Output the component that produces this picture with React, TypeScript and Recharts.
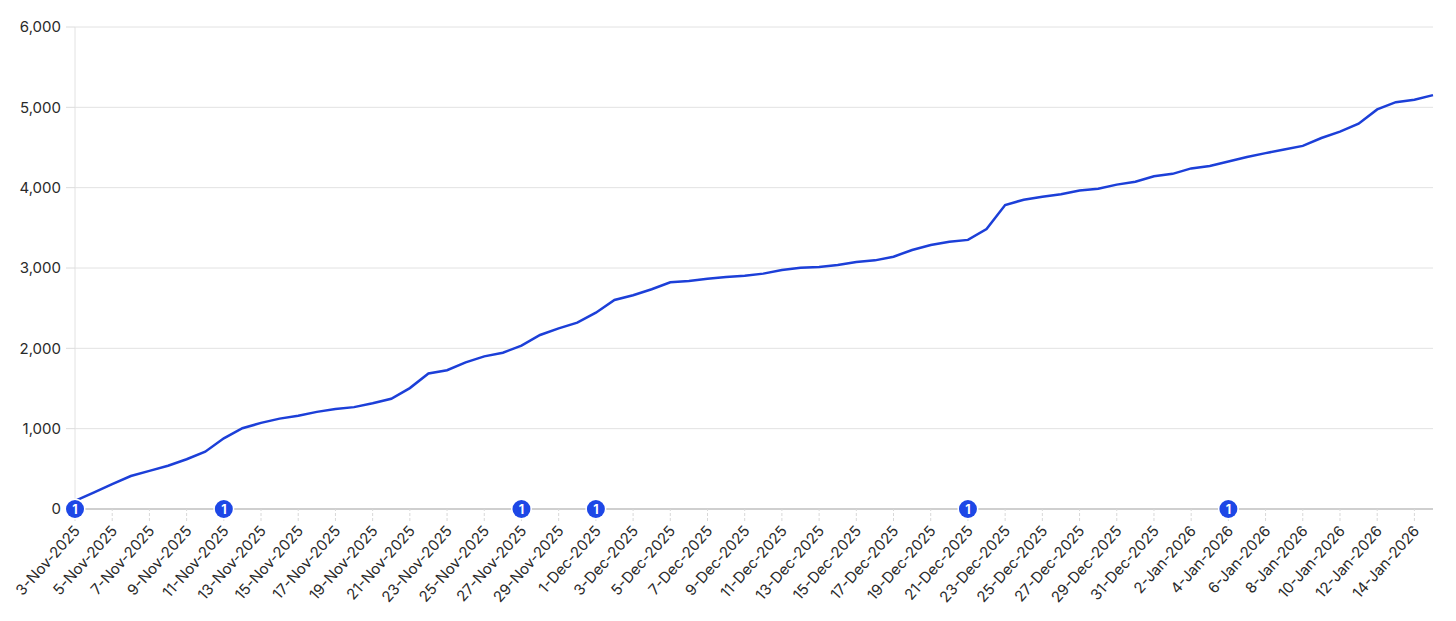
import {
  LineChart,
  Line,
  XAxis,
  YAxis,
  CartesianGrid,
  ReferenceDot,
} from "recharts";

// one point per day, 3-Nov-2025 .. 15-Jan-2026
const dates = [
  "3-Nov-2025", "4-Nov-2025", "5-Nov-2025", "6-Nov-2025", "7-Nov-2025", "8-Nov-2025",
  "9-Nov-2025", "10-Nov-2025", "11-Nov-2025", "12-Nov-2025", "13-Nov-2025", "14-Nov-2025",
  "15-Nov-2025", "16-Nov-2025", "17-Nov-2025", "18-Nov-2025", "19-Nov-2025", "20-Nov-2025",
  "21-Nov-2025", "22-Nov-2025", "23-Nov-2025", "24-Nov-2025", "25-Nov-2025", "26-Nov-2025",
  "27-Nov-2025", "28-Nov-2025", "29-Nov-2025", "30-Nov-2025", "1-Dec-2025", "2-Dec-2025",
  "3-Dec-2025", "4-Dec-2025", "5-Dec-2025", "6-Dec-2025", "7-Dec-2025", "8-Dec-2025",
  "9-Dec-2025", "10-Dec-2025", "11-Dec-2025", "12-Dec-2025", "13-Dec-2025", "14-Dec-2025",
  "15-Dec-2025", "16-Dec-2025", "17-Dec-2025", "18-Dec-2025", "19-Dec-2025", "20-Dec-2025",
  "21-Dec-2025", "22-Dec-2025", "23-Dec-2025", "24-Dec-2025", "25-Dec-2025", "26-Dec-2025",
  "27-Dec-2025", "28-Dec-2025", "29-Dec-2025", "30-Dec-2025", "31-Dec-2025", "1-Jan-2026",
  "2-Jan-2026", "3-Jan-2026", "4-Jan-2026", "5-Jan-2026", "6-Jan-2026", "7-Jan-2026",
  "8-Jan-2026", "9-Jan-2026", "10-Jan-2026", "11-Jan-2026", "12-Jan-2026", "13-Jan-2026",
  "14-Jan-2026", "15-Jan-2026",
];

const totals = [
  100, 205, 310, 411, 475, 539, 619, 713, 880, 1005, 1072, 1125,
  1160, 1209, 1244, 1268, 1317, 1372, 1505, 1687, 1727, 1825, 1900, 1946,
  2033, 2166, 2249, 2320, 2444, 2602, 2660, 2735, 2822, 2838, 2867, 2888,
  2905, 2930, 2975, 3004, 3013, 3037, 3075, 3095, 3141, 3224, 3286, 3328,
  3350, 3486, 3784, 3850, 3888, 3919, 3964, 3986, 4038, 4074, 4141, 4172,
  4240, 4271, 4325, 4382, 4430, 4475, 4520, 4618, 4698, 4796, 4974, 5064,
  5095, 5152,
];

const yTicks = [0, 1000, 2000, 3000, 4000, 5000, 6000];

// annotation markers sitting on the baseline
const markerDates = ["3-Nov-2025", "11-Nov-2025", "27-Nov-2025", "1-Dec-2025", "21-Dec-2025", "4-Jan-2026"];
const markerLabels = ["1", "1", "1", "1", "1", "1"];

const data = dates.map((d, i) => ({ date: d, total: totals[i] }));

const FONT = "Inter, 'Noto Sans', sans-serif";

function DateTick({ x, y, payload }: any) {
  return (
    <g transform={`translate(${x + 2},${y + 5})`}>
      <text
        textAnchor="end"
        dy="0.35em"
        transform="rotate(-48)"
        fill="#2a2a2a"
        fontSize={15}
        fontFamily={FONT}
      >
        {payload.value}
      </text>
    </g>
  );
}

function Marker({ cx, cy, label }: any) {
  return (
    <g>
      <circle cx={cx} cy={cy} r={10.5} fill="#fff" />
      <circle cx={cx} cy={cy} r={9} fill="#1d47e6" />
      <text
        x={cx}
        y={cy}
        dy="0.36em"
        textAnchor="middle"
        fill="#fff"
        fontSize={12.5}
        fontWeight={700}
        fontFamily={FONT}
      >
        {label}
      </text>
    </g>
  );
}

export default function App() {
  return (
    <div style={{ position: "absolute", left: 0, top: 0, width: 1456, height: 621, background: "#fff" }}>
      <LineChart
        width={1456}
        height={621}
        data={data}
        margin={{ top: 27, right: 23, bottom: 0, left: 0 }}
      >
        <CartesianGrid stroke="#e2e2e2" vertical={false} />
        <XAxis
          dataKey="date"
          interval={1}
          height={112}
          stroke="#cfcfcf"
          strokeWidth={2}
          tickSize={12}
          tickMargin={2}
          tickLine={{ stroke: "#d8d8d8", strokeDasharray: "3 2", strokeWidth: 1 }}
          tick={<DateTick />}
        />
        <YAxis
          width={75}
          domain={[0, 6000]}
          ticks={yTicks}
          stroke="#e2e2e2"
          tickSize={9}
          tickMargin={5}
          tickLine={{ stroke: "#dcdcdc" }}
          tick={{ fill: "#2a2a2a", fontSize: 15, fontFamily: FONT }}
          tickFormatter={(v: number) => v.toLocaleString("en-US")}
        />
        <Line
          type="linear"
          dataKey="total"
          stroke="#1c3fd8"
          strokeWidth={2.5}
          dot={false}
          activeDot={false}
          isAnimationActive={false}
        />
        {markerDates.map((d, i) => (
          <ReferenceDot
            key={d}
            x={d}
            y={0}
            ifOverflow="visible"
            shape={(p: any) => <Marker cx={p.cx} cy={p.cy} label={markerLabels[i]} />}
          />
        ))}
      </LineChart>
    </div>
  );
}
